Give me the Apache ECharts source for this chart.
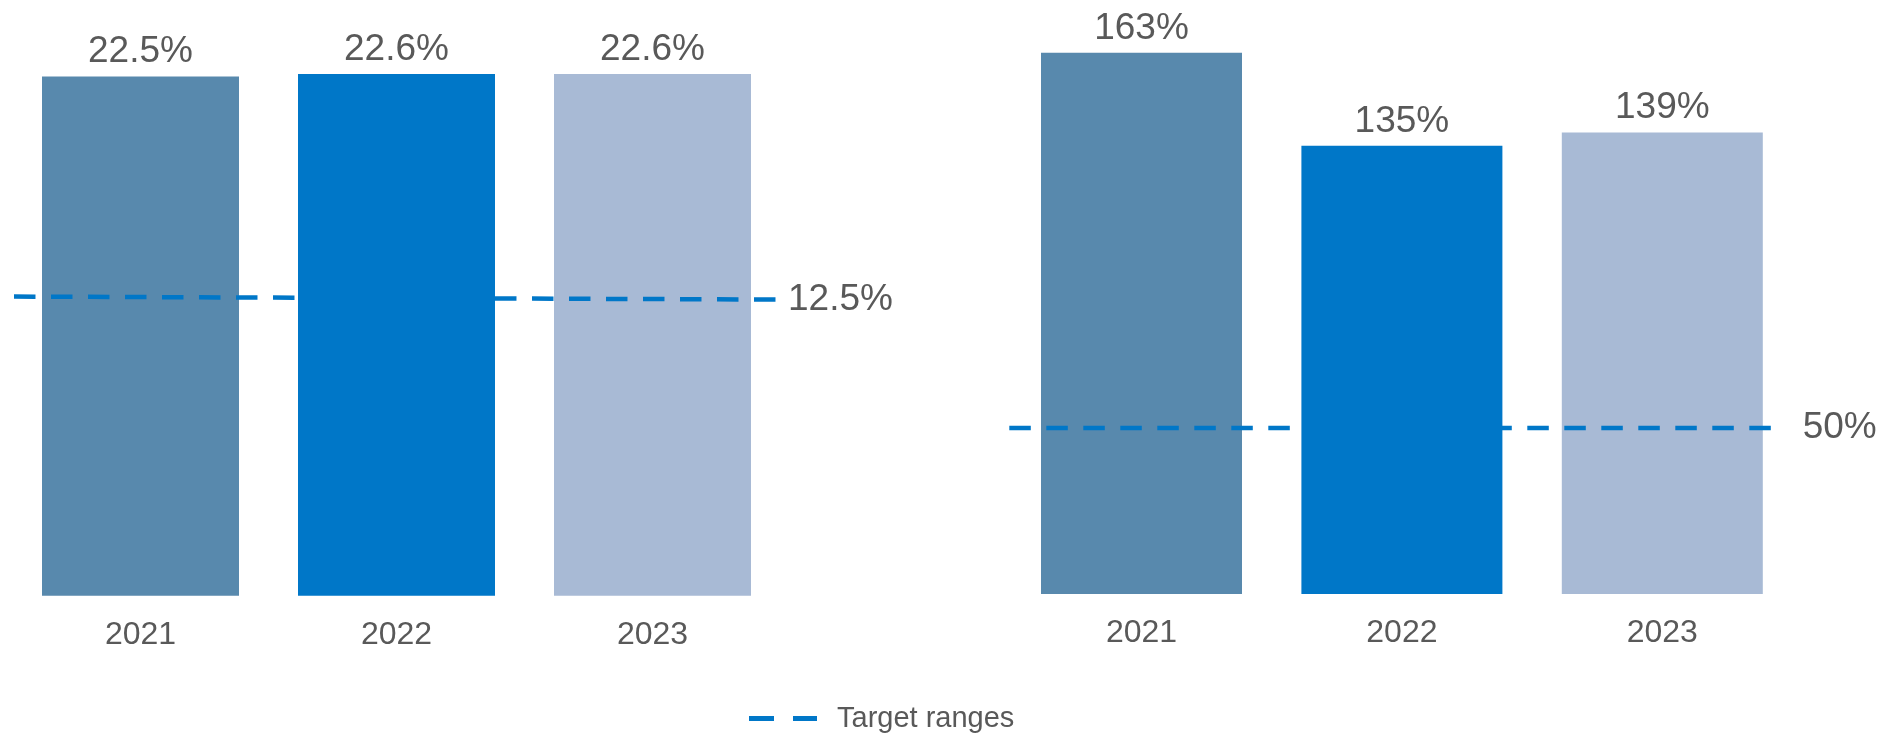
<!DOCTYPE html>
<html>
<head>
<meta charset="utf-8">
<script src="https://cdn.jsdelivr.net/npm/echarts@6/dist/echarts.min.js"></script>
<style>
html,body{margin:0;padding:0;background:#fff;}
#c{width:1881px;height:734px;}
</style>
</head>
<body>
<div id="c"></div>
<script>
// ---- data ----
var categories = ['2021', '2022', '2023'];
var leftValues = [22.5, 22.6, 22.6];
var rightValues = [163, 135, 139];
var leftTarget = [12.96, 12.83];   // dashed target line (start, end) as placed in the picture
var rightTarget = [50, 50];
var leftTargetLabel = '12.5%';
var rightTargetLabel = '50%';
var barColors = ['#5889AD', '#0077C8', '#A8BAD5'];
var legendName = 'Target ranges';

var FONT = '"Liberation Sans", Arial, Helvetica, sans-serif';
var TXT = '#595959';
var LINE = '#0077C8';

function splitBars(values, keepIdx) {
  return values.map(function (v, i) {
    if (keepIdx.indexOf(i) < 0) return '-';
    return { value: v, itemStyle: { color: barColors[i] } };
  });
}

function barSeries(values, idx, axisIdx, z, fmt, bw) {
  return {
    type: 'bar',
    xAxisIndex: axisIdx, yAxisIndex: axisIdx,
    data: splitBars(values, idx),
    barWidth: bw,
    barGap: '-100%',
    z: z,
    silent: true,
    label: {
      show: true, position: 'top', distance: 6,
      color: TXT, fontFamily: FONT, fontSize: 37,
      formatter: fmt
    }
  };
}

function lineSeries(values, axisIdx, labelText, dist) {
  return {
    name: legendName,
    type: 'line',
    xAxisIndex: axisIdx, yAxisIndex: axisIdx,
    symbol: 'none',
    z: 3,
    silent: true,
    clip: false,
    lineStyle: { color: LINE, width: 4.5, type: [21.5, 15.5] },
    itemStyle: { color: LINE },
    endLabel: {
      show: true, distance: dist,
      color: TXT, fontFamily: FONT, fontSize: 37,
      formatter: function () { return labelText; }
    },
    data: values
  };
}

var catAxis = function (gi) {
  return {
    type: 'category', gridIndex: gi, data: categories,
    axisLine: { show: false }, axisTick: { show: false },
    axisLabel: { color: TXT, fontFamily: FONT, fontSize: 32, margin: 23 }
  };
};
var lineXAxis = function (gi) {
  return { type: 'category', gridIndex: gi, boundaryGap: false, data: ['s', 'e'], show: false };
};
var valAxis = function (gi, max) {
  return { type: 'value', gridIndex: gi, min: 0, max: max, show: false, splitLine: { show: false } };
};

var option = {
  animation: false,
  backgroundColor: '#ffffff',
  grid: [
    { left: 12.5, top: 18.7, width: 768, height: 577 },
    { left: 14, top: 18.7, width: 768, height: 577 },
    { left: 1011.3, top: 13, width: 781.2, height: 581 },
    { left: 1009.3, top: 13, width: 768.4, height: 581 }
  ],
  xAxis: [catAxis(0), lineXAxis(1), catAxis(2), lineXAxis(3)],
  yAxis: [valAxis(0, 25), valAxis(1, 25), valAxis(2, 175), valAxis(3, 175)],
  legend: {
    data: [{ name: legendName, icon: 'path://M0,0H25V5H0Z M44,0H68V5H44Z' }],
    left: 744, top: 699,
    itemWidth: 68, itemHeight: 5,
    itemStyle: { color: LINE, borderWidth: 0 },
    textStyle: { color: TXT, fontFamily: FONT, fontSize: 29, padding: [0, 0, 0, 15] },
    selectedMode: false
  },
  series: [
    barSeries(leftValues, [0, 2], 0, 1, function (p) { return p.value.toFixed(1) + '%'; }, 197),
    lineSeries(leftTarget, 1, leftTargetLabel, 6),
    barSeries(leftValues, [1], 0, 5, function (p) { return p.value.toFixed(1) + '%'; }, 197),
    barSeries(rightValues, [0, 2], 2, 1, function (p) { return p.value + '%'; }, 201),
    lineSeries(rightTarget, 3, rightTargetLabel, 25),
    barSeries(rightValues, [1], 2, 5, function (p) { return p.value + '%'; }, 201)
  ]
};

var chart = echarts.init(document.getElementById('c'), null, { renderer: 'canvas' });
chart.setOption(option);
</script>
</body>
</html>
